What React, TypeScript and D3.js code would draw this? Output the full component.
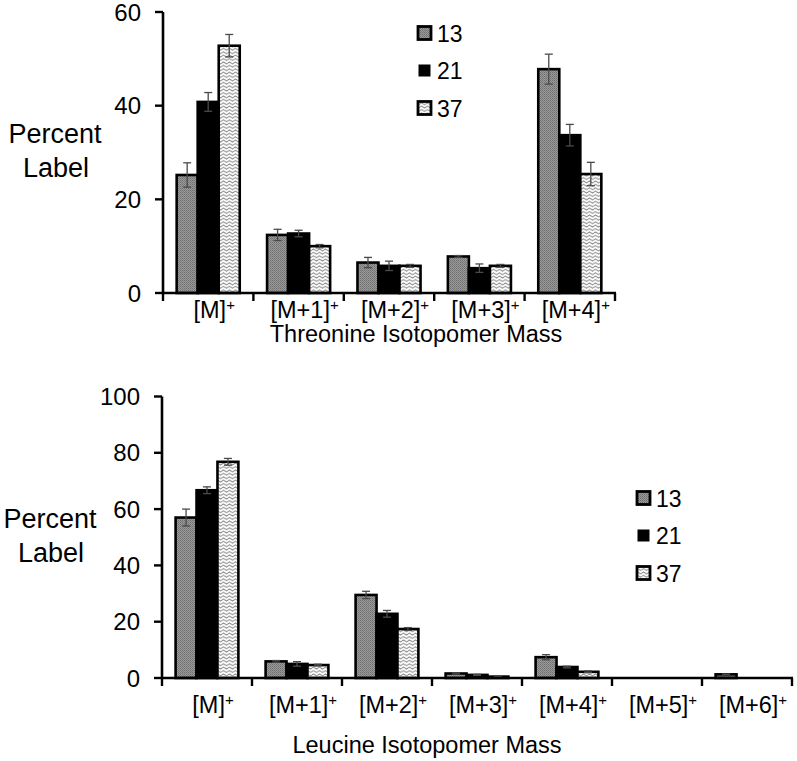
import React from "react";
import * as d3 from "d3";

const seriesNames = ["13", "21", "37"];

const thrCategories = ["M", "M+1", "M+2", "M+3", "M+4"];
const thr13 = [25.2, 12.4, 6.5, 7.8, 47.8];
const thr13Err = [2.6, 1.2, 1.1, 0.2, 3.2];
const thr21 = [40.8, 12.7, 5.8, 5.3, 33.7];
const thr21Err = [2.0, 0.7, 1.0, 0.9, 2.3];
const thr37 = [52.8, 10.0, 5.8, 5.8, 25.4];
const thr37Err = [2.4, 0.35, 0.3, 0.3, 2.5];
const thrTicks = [0, 20, 40, 60];

const leuCategories = ["M", "M+1", "M+2", "M+3", "M+4", "M+5", "M+6"];
const leu13 = [57.0, 5.9, 29.5, 1.6, 7.4, 0, 1.3];
const leu13Err = [3.0, 0.3, 1.3, 0.2, 0.9, 0, 0.1];
const leu21 = [66.7, 5.0, 22.8, 1.1, 3.9, 0, 0];
const leu21Err = [1.2, 0.8, 1.2, 0.2, 0.3, 0, 0];
const leu37 = [76.8, 4.6, 17.4, 0.5, 2.2, 0, 0];
const leu37Err = [1.2, 0.3, 0.5, 0.1, 0.3, 0, 0];
const leuTicks = [0, 20, 40, 60, 80, 100];

const FONT = "'Liberation Sans', Arial, sans-serif";
const fills = ["url(#dotGray)", "#000", "url(#wave)"];

type ChartProps = {
  categories: string[];
  values: number[][];
  errors: number[][];
  ticks: number[];
  yMax: number;
  x0: number;
  x1: number;
  yBase: number;
  yTop: number;
  title: string;
  titleX: number;
  titleY: number;
  labelY: number;
  percentX: number;
  percentY: number;
  legendX: number;
  legendY: number;
};

function Chart(p: ChartProps) {
  const y = d3.scaleLinear().domain([0, p.yMax]).range([p.yBase, p.yTop]);
  const xOuter = d3.scaleBand<string>().domain(p.categories).range([p.x0, p.x1]).padding(0);
  const xInner = d3
    .scaleBand<string>()
    .domain(seriesNames)
    .range([0, xOuter.bandwidth()])
    .paddingInner(0)
    .paddingOuter(0.65);
  const bw = xInner.bandwidth();
  const boundaries = [...p.categories.map((c) => xOuter(c) as number), p.x1];
  return (
    <g>
      {p.categories.map((c, ci) =>
        seriesNames.map((s, si) => {
          const v = p.values[si][ci];
          if (v <= 0) return null;
          const x = (xOuter(c) as number) + (xInner(s) as number);
          return (
            <rect
              key={c + s}
              x={x}
              y={y(v)}
              width={bw}
              height={p.yBase - y(v)}
              fill={fills[si]}
              stroke="#000"
              strokeWidth={2.6}
            />
          );
        })
      )}
      {p.categories.map((c, ci) =>
        seriesNames.map((s, si) => {
          const v = p.values[si][ci];
          const e = p.errors[si][ci];
          if (v <= 0 || e <= 0) return null;
          const cx = (xOuter(c) as number) + (xInner(s) as number) + bw / 2;
          return (
            <g key={"e" + c + s} stroke="#4a4a4a" strokeWidth={1.3}>
              <line x1={cx} x2={cx} y1={y(v + e)} y2={y(v - e)} />
              <line x1={cx - 4} x2={cx + 4} y1={y(v + e)} y2={y(v + e)} />
              <line x1={cx - 4} x2={cx + 4} y1={y(v - e)} y2={y(v - e)} />
            </g>
          );
        })
      )}
      <line x1={p.x0} x2={p.x0} y1={p.yTop} y2={p.yBase} stroke="#000" strokeWidth={2.6} />
      {p.ticks.map((t) => (
        <g key={"t" + t}>
          <line x1={p.x0 - 8} x2={p.x0} y1={y(t)} y2={y(t)} stroke="#000" strokeWidth={2.4} />
          <text
            x={p.x0 - 22}
            y={y(t) + 8.5}
            textAnchor="end"
            fontSize={24}
            fontFamily={FONT}
            fill="#000"
          >
            {t}
          </text>
        </g>
      ))}
      <line x1={p.x0 - 1} x2={p.x1 + 1} y1={p.yBase} y2={p.yBase} stroke="#000" strokeWidth={2.6} />
      {boundaries.map((b, i) => (
        <line key={"b" + i} x1={b} x2={b} y1={p.yBase} y2={p.yBase + 8} stroke="#000" strokeWidth={2.4} />
      ))}
      {p.categories.map((c) => (
        <text
          key={"l" + c}
          x={(xOuter(c) as number) + xOuter.bandwidth() / 2 + 6}
          y={p.labelY}
          textAnchor="middle"
          fontSize={23.5}
          fontFamily={FONT}
          fill="#000"
        >
          {"[" + c + "]"}
          <tspan fontSize={15} dy={-8.5}>
            +
          </tspan>
        </text>
      ))}
      <text x={p.titleX} y={p.titleY} textAnchor="middle" fontSize={23.5} fontFamily={FONT} fill="#000">
        {p.title}
      </text>
      <text x={p.percentX} y={p.percentY} textAnchor="middle" fontSize={27} fontFamily={FONT} fill="#000">
        <tspan x={p.percentX}>Percent</tspan>
        <tspan x={p.percentX + 1} dy={33.5}>
          Label
        </tspan>
      </text>
      {seriesNames.map((s, si) => {
        const cy = p.legendY + si * 37.5;
        const size = si === 1 ? 12 : 13;
        return (
          <g key={"lg" + s}>
            <rect
              x={p.legendX + (15 - size) / 2}
              y={cy - size / 2}
              width={size}
              height={size}
              fill={fills[si]}
              stroke="#000"
              strokeWidth={si === 1 ? 0 : 2.8}
            />
            <text x={p.legendX + 20} y={cy + 8.5} fontSize={23} fontFamily={FONT} fill="#000">
              {s}
            </text>
          </g>
        );
      })}
    </g>
  );
}

export default function App() {
  return (
    <svg
      width={797}
      height={761}
      style={{ position: "absolute", left: 0, top: 0, background: "#fff" }}
    >
      <defs>
        <pattern id="dotGray" width={2} height={2} patternUnits="userSpaceOnUse">
          <rect width={2} height={2} fill="#9a9a9a" />
          <rect width={1} height={1} fill="#6e6e6e" />
          <rect x={1} y={1} width={1} height={1} fill="#7e7e7e" />
        </pattern>
        <pattern id="wave" width={6} height={3.4} patternUnits="userSpaceOnUse">
          <rect width={6} height={3.4} fill="#fff" />
          <path d="M0,1.7 L1.5,0.8 L3,1.7 L4.5,2.6 L6,1.7" stroke="#8a8a8a" strokeWidth={1} fill="none" />
        </pattern>
      </defs>
      <rect width={797} height={761} fill="#fff" />
      <Chart
        categories={thrCategories}
        values={[thr13, thr21, thr37]}
        errors={[thr13Err, thr21Err, thr37Err]}
        ticks={thrTicks}
        yMax={60}
        x0={163}
        x1={615}
        yBase={293}
        yTop={12}
        title="Threonine Isotopomer Mass"
        titleX={416}
        titleY={342}
        labelY={318}
        percentX={55}
        percentY={143}
        legendX={417}
        legendY={33}
      />
      <Chart
        categories={leuCategories}
        values={[leu13, leu21, leu37]}
        errors={[leu13Err, leu21Err, leu37Err]}
        ticks={leuTicks}
        yMax={100}
        x0={162}
        x1={792}
        yBase={678}
        yTop={396.5}
        title="Leucine Isotopomer Mass"
        titleX={427}
        titleY={753}
        labelY={713}
        percentX={50}
        percentY={528}
        legendX={636}
        legendY={498}
      />
    </svg>
  );
}
